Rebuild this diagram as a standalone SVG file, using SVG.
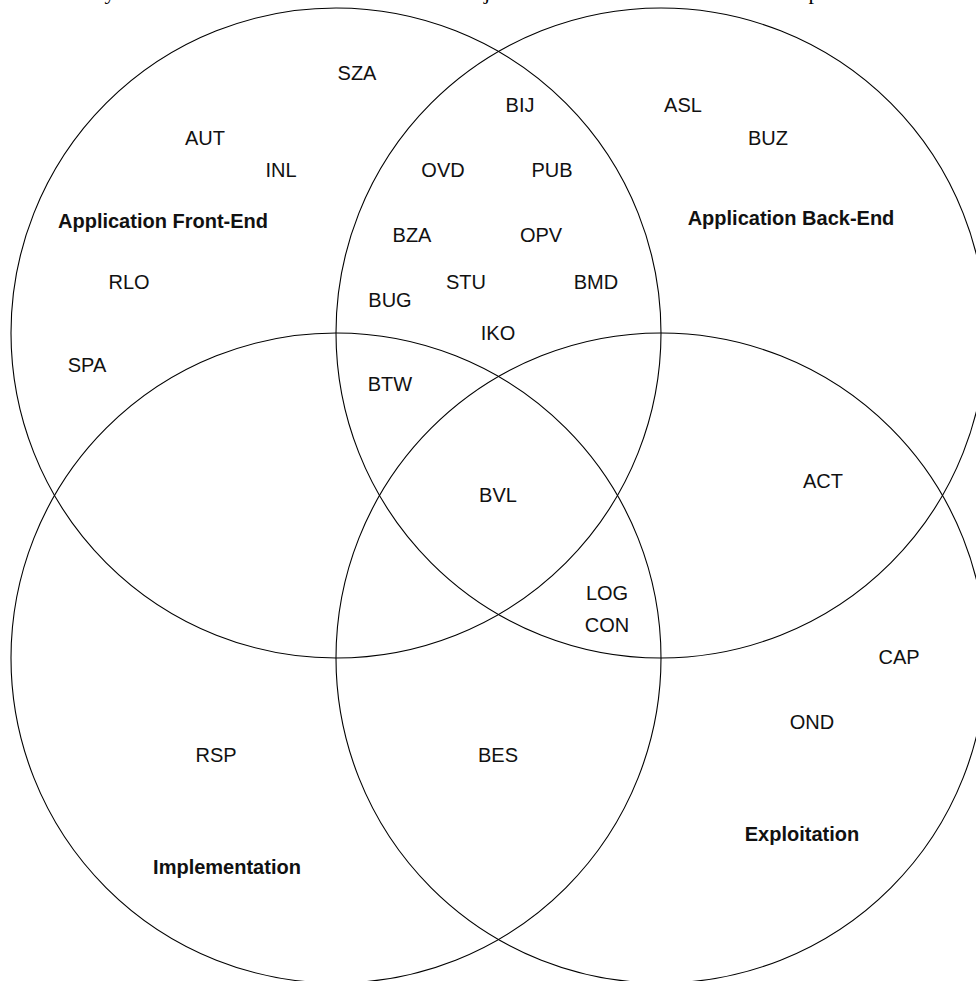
<svg xmlns="http://www.w3.org/2000/svg" width="976" height="981" viewBox="0 0 976 981">
  <style>
    .set { fill: none; stroke: #000; stroke-width: 1.1; }
    .lbl { font-family: "Liberation Sans", Arial, sans-serif; font-size: 20px; fill: #111; text-anchor: middle; }
    .title { font-weight: bold; }
    .cut { font-family: "Liberation Serif", "Times New Roman", serif; font-size: 22px; fill: #000; text-anchor: middle; }
  </style>
  <rect width="976" height="981" fill="#fff"/>

  <!-- caption line above the diagram, clipped by the top edge -->
  <g id="caption">
    <text class="cut" x="110" y="-1">y</text>
    <text class="cut" x="487" y="-1">j</text>
    <text class="cut" x="814" y="-1">p</text>
  </g>

  <!-- the four sets -->
  <g id="set-front-end">
    <circle class="set" cx="336" cy="333" r="325"/>
    <text class="lbl title" x="163" y="228">Application Front-End</text>
  </g>
  <g id="set-back-end">
    <circle class="set" cx="661" cy="333" r="325"/>
    <text class="lbl title" x="791" y="225">Application Back-End</text>
  </g>
  <g id="set-implementation">
    <circle class="set" cx="336" cy="658" r="325"/>
    <text class="lbl title" x="227" y="874">Implementation</text>
  </g>
  <g id="set-exploitation">
    <circle class="set" cx="661" cy="658" r="325"/>
    <text class="lbl title" x="802" y="841">Exploitation</text>
  </g>

  <!-- members -->
  <g id="members">
    <text class="lbl" x="357" y="80">SZA</text>
    <text class="lbl" x="520" y="112">BIJ</text>
    <text class="lbl" x="683" y="112">ASL</text>
    <text class="lbl" x="768" y="145">BUZ</text>
    <text class="lbl" x="205" y="145">AUT</text>
    <text class="lbl" x="281" y="177">INL</text>
    <text class="lbl" x="443" y="177">OVD</text>
    <text class="lbl" x="552" y="177">PUB</text>
    <text class="lbl" x="412" y="242">BZA</text>
    <text class="lbl" x="541" y="242">OPV</text>
    <text class="lbl" x="129" y="289">RLO</text>
    <text class="lbl" x="466" y="289">STU</text>
    <text class="lbl" x="596" y="289">BMD</text>
    <text class="lbl" x="390" y="307">BUG</text>
    <text class="lbl" x="498" y="340">IKO</text>
    <text class="lbl" x="87" y="372">SPA</text>
    <text class="lbl" x="390" y="391">BTW</text>
    <text class="lbl" x="498" y="502">BVL</text>
    <text class="lbl" x="823" y="488">ACT</text>
    <text class="lbl" x="607" y="600">LOG</text>
    <text class="lbl" x="607" y="632">CON</text>
    <text class="lbl" x="899" y="664">CAP</text>
    <text class="lbl" x="812" y="729">OND</text>
    <text class="lbl" x="216" y="762">RSP</text>
    <text class="lbl" x="498" y="762">BES</text>
  </g>
</svg>
